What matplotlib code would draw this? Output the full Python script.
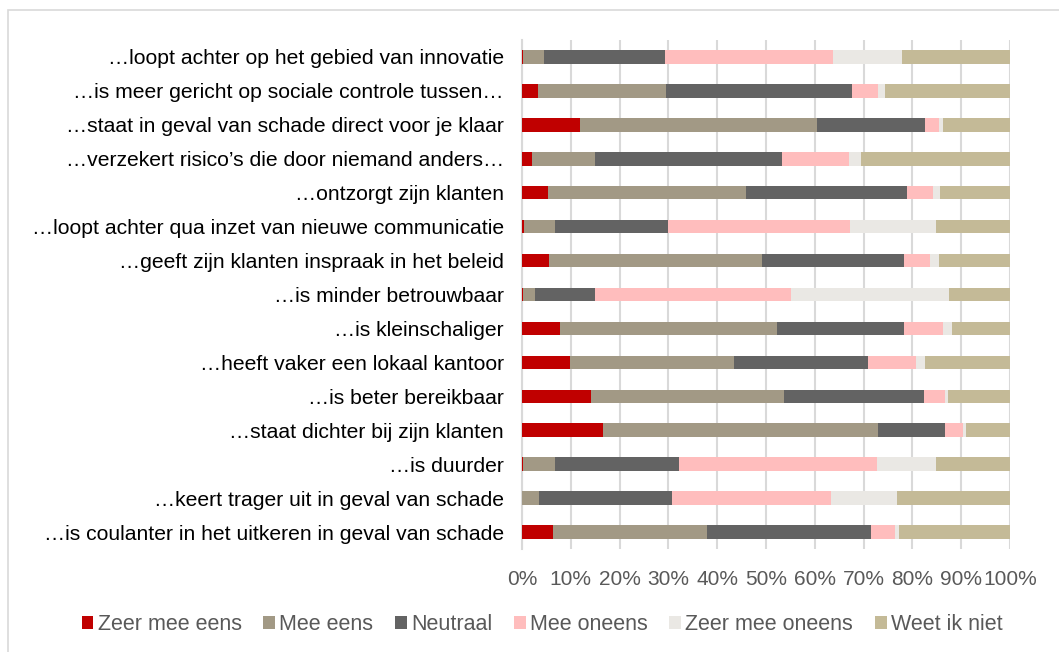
import numpy as np
import matplotlib.pyplot as plt
from matplotlib.patches import Rectangle

plt.rcParams['font.family'] = ['Liberation Sans', 'DejaVu Sans']

# statements, top to bottom as shown
labels = [
    "…loopt achter op het gebied van innovatie",
    "…is meer gericht op sociale controle tussen…",
    "…staat in geval van schade direct voor je klaar",
    "…verzekert risico’s die door niemand anders…",
    "…ontzorgt zijn klanten",
    "…loopt achter qua inzet van nieuwe communicatie",
    "…geeft zijn klanten inspraak in het beleid",
    "…is minder betrouwbaar",
    "…is kleinschaliger",
    "…heeft vaker een lokaal kantoor",
    "…is beter bereikbaar",
    "…staat dichter bij zijn klanten",
    "…is duurder",
    "…keert trager uit in geval van schade",
    "…is coulanter in het uitkeren in geval van schade",
]

series = ["Zeer mee eens", "Mee eens", "Neutraal", "Mee oneens",
          "Zeer mee oneens", "Weet ik niet"]
colors = ["#C00000", "#A29985", "#636363", "#FFBDBD", "#EAE8E4", "#C4BA97"]

# percentages per series (same order as labels)
zeer_mee_eens   = [0.3, 3.3, 11.8, 2.0, 5.3, 0.5, 5.5, 0.2, 7.7, 9.8, 14.1, 16.7, 0.3, 0.0, 6.3]
mee_eens        = [4.3, 26.3, 48.6, 12.9, 40.6, 6.2, 43.7, 2.5, 44.5, 33.6, 39.5, 56.2, 6.4, 3.4, 31.7]
neutraal        = [24.7, 38.1, 22.2, 38.4, 32.9, 23.2, 29.0, 12.3, 26.1, 27.6, 28.8, 13.8, 25.5, 27.4, 33.5]
mee_oneens      = [34.5, 5.3, 2.8, 13.7, 5.4, 37.4, 5.4, 40.1, 8.0, 9.7, 4.3, 3.7, 40.5, 32.6, 4.9]
zeer_mee_oneens = [14.0, 1.4, 0.9, 2.4, 1.5, 17.5, 1.8, 32.3, 1.8, 1.8, 0.5, 0.5, 12.1, 13.5, 0.8]
weet_ik_niet    = [22.2, 25.6, 13.7, 30.6, 14.3, 15.2, 14.6, 12.6, 11.9, 17.5, 12.8, 9.1, 15.2, 23.1, 22.8]

data = [zeer_mee_eens, mee_eens, neutraal, mee_oneens, zeer_mee_oneens, weet_ik_niet]

fig = plt.figure(figsize=(10.59, 6.52), dpi=100)
# light frame around the chart area (only top/left visible)
fig.patches.append(Rectangle((8/1059, -0.1), 1.2, 1 - 10/652 + 0.1, transform=fig.transFigure,
                             fill=False, edgecolor="#D9D9D9", lw=1.2))

ax = fig.add_axes([522/1059, 1 - 549/652, 488/1059, 509/652])

y = np.arange(len(labels))
left = np.zeros(len(labels))
for vals, name, c in zip(data, series, colors):
    vals = np.array(vals)
    ax.barh(y, vals, left=left, height=0.4, color=c, label=name, zorder=3)
    left += vals

ax.set_ylim(len(labels) - 0.5, -0.5)
ax.set_xlim(0, 100)
ax.set_xticks(np.arange(0, 101, 10))
ax.set_xticklabels([f"{v}%" for v in range(0, 101, 10)])
ax.set_yticks(y)
ax.set_yticklabels(labels)

ax.grid(axis="x", color="#D9D9D9", lw=1.5, zorder=0)
for s in ["top", "right", "bottom"]:
    ax.spines[s].set_visible(False)
ax.spines["left"].set_color("#D9D9D9")
ax.spines["left"].set_linewidth(1.5)
ax.tick_params(axis="y", length=0, pad=13, labelsize=15.2, labelcolor="#000000")
ax.tick_params(axis="x", length=0, pad=15, labelsize=15, labelcolor="#595959")

ax.legend(loc="center", bbox_to_anchor=(542/1059, 1 - 625/652), bbox_transform=fig.transFigure,
          ncol=6, frameon=False, fontsize=15.5, labelcolor="#595959",
          handlelength=0.55, handleheight=0.55, handletextpad=0.2, columnspacing=1.0)

fig.savefig("out.png", dpi=100)
